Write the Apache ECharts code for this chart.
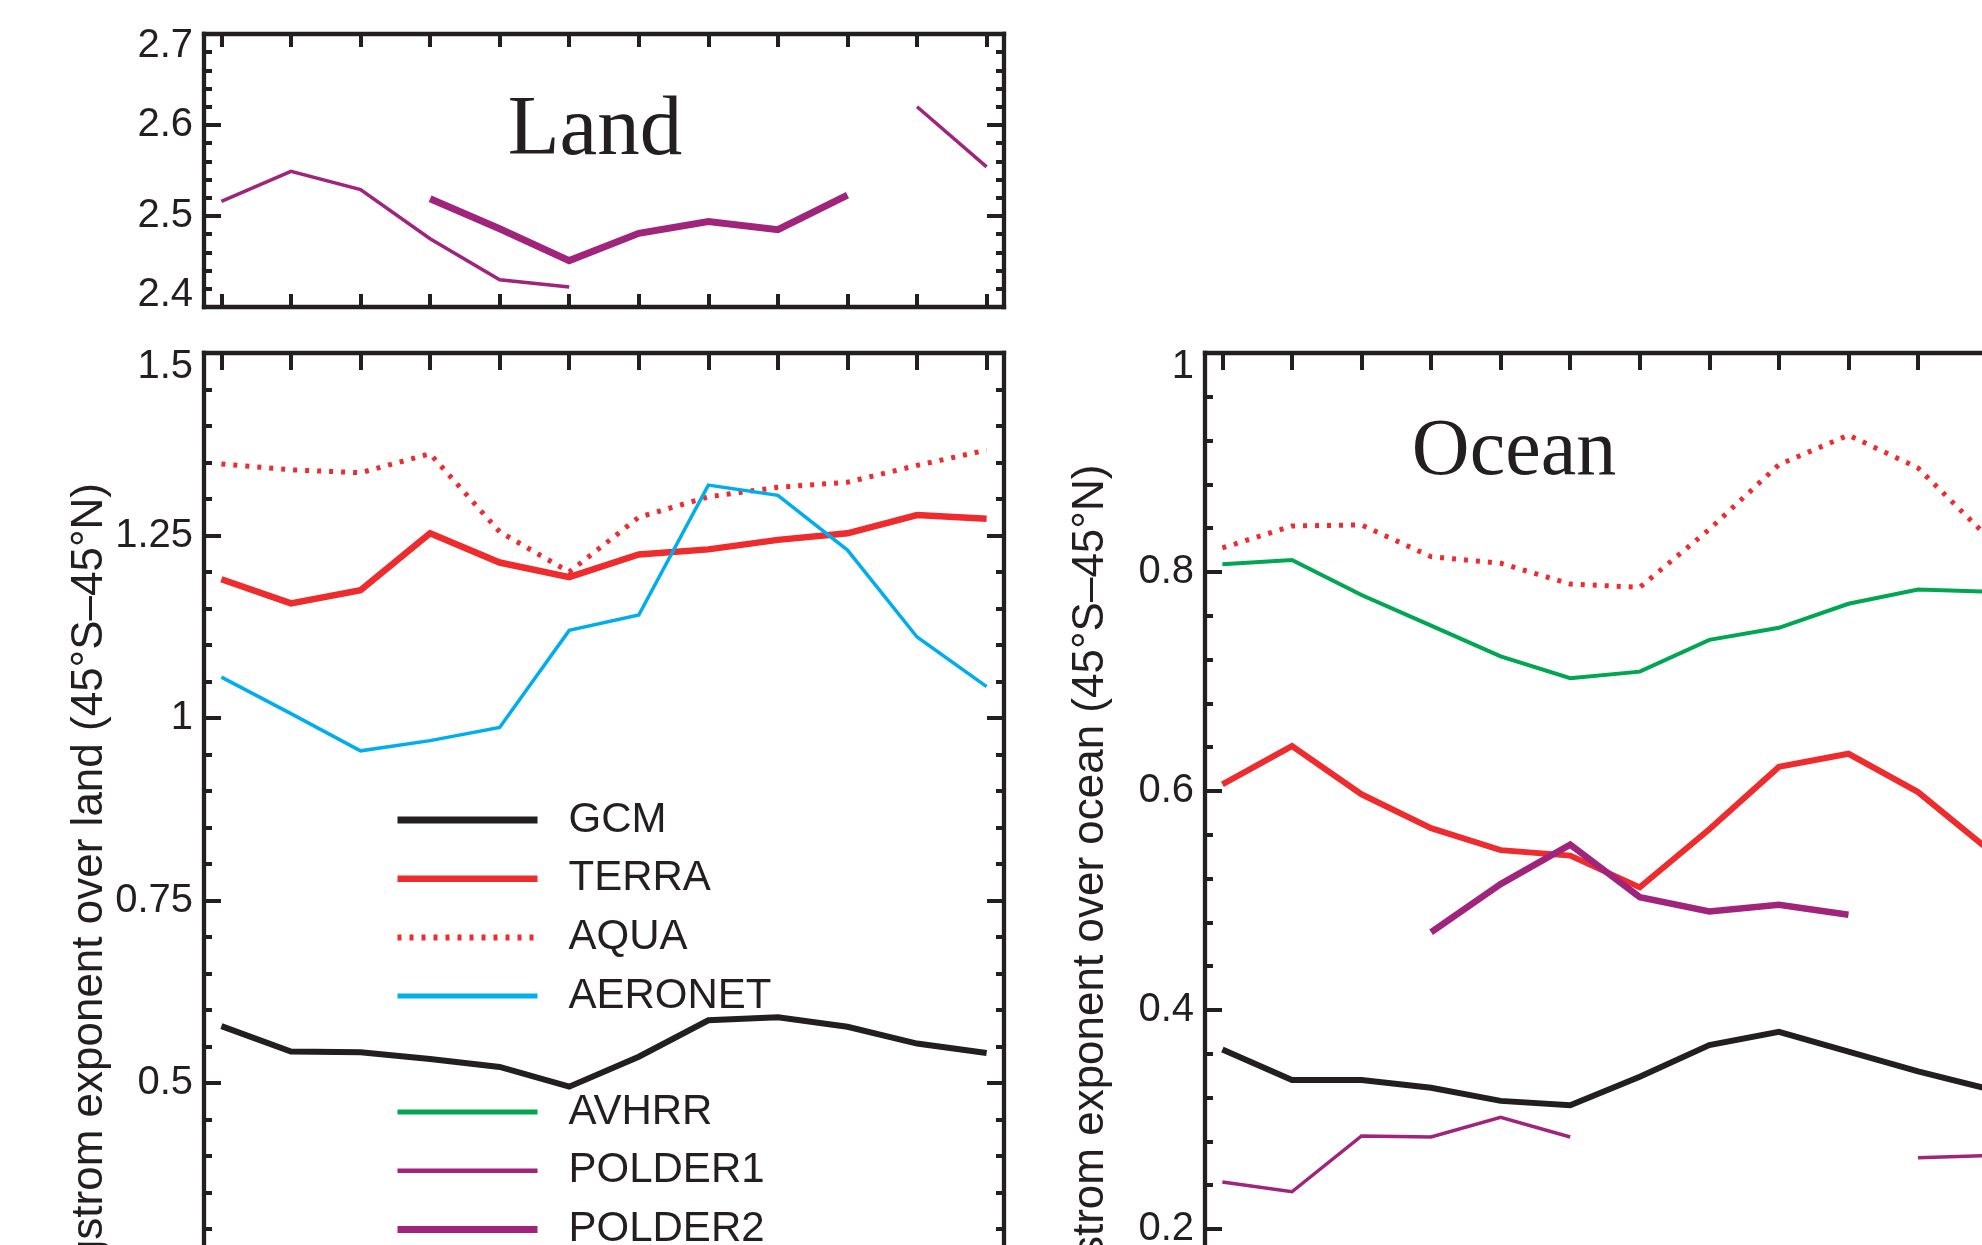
<!DOCTYPE html>
<html>
<head>
<meta charset="utf-8">
<script src="https://cdn.jsdelivr.net/npm/echarts@6/dist/echarts.min.js"></script>
<style>
html,body{margin:0;padding:0;background:#ffffff;overflow:hidden;}
#c{width:1982px;height:1245px;}
</style>
</head>
<body>
<div id="c"></div>
<script>
// ---------- data ----------
const months = [1, 2, 3, 4, 5, 6, 7, 8, 9, 10, 11, 12];

// Land, upper panel (POLDER)
const landPolder1 = [2.516, 2.549, 2.529, 2.475, 2.430, 2.422, null, null, null, null, 2.620, 2.554];
const landPolder2 = [null, null, null, 2.519, 2.486, 2.451, 2.481, 2.494, 2.485, 2.523, null, null];

// Land, lower panel
const landGCM     = [0.578, 0.543, 0.542, 0.533, 0.522, 0.495, 0.536, 0.586, 0.590, 0.577, 0.554, 0.541];
const landTerra   = [1.190, 1.157, 1.175, 1.253, 1.213, 1.193, 1.224, 1.231, 1.244, 1.253, 1.278, 1.273];
const landAqua    = [1.348, 1.340, 1.336, 1.362, 1.255, 1.200, 1.275, 1.303, 1.316, 1.323, 1.346, 1.367];
const landAeronet = [1.056, 1.006, 0.955, 0.969, 0.987, 1.120, 1.141, 1.319, 1.305, 1.230, 1.111, 1.043];

// Ocean
const oceanAqua    = [0.822, 0.842, 0.843, 0.814, 0.808, 0.789, 0.786, 0.839, 0.898, 0.925, 0.895, 0.832];
const oceanAvhrr   = [0.807, 0.811, 0.779, 0.751, 0.723, 0.703, 0.709, 0.738, 0.749, 0.771, 0.784, 0.782];
const oceanTerra   = [0.606, 0.641, 0.597, 0.566, 0.546, 0.541, 0.512, 0.565, 0.622, 0.634, 0.599, 0.547];
const oceanPolder2 = [null, null, null, 0.471, 0.515, 0.551, 0.503, 0.490, 0.496, 0.487, null, null];
const oceanGCM     = [0.364, 0.336, 0.336, 0.329, 0.317, 0.313, 0.339, 0.368, 0.380, 0.362, 0.344, 0.328];
const oceanPolder1 = [0.243, 0.234, 0.285, 0.284, 0.302, 0.284, null, null, null, null, 0.265, 0.267];

// tick values
const landUpperTicks = [2.4, 2.5, 2.6, 2.7];
const landLowerTicks = [0, 0.25, 0.5, 0.75, 1, 1.25, 1.5];
const oceanTicks     = [0, 0.2, 0.4, 0.6, 0.8, 1];

const legendA = ['GCM', 'TERRA', 'AQUA', 'AERONET'];
const legendB = ['AVHRR', 'POLDER1', 'POLDER2'];

const landTitle  = 'Ångstrom exponent over land (45°S–45°N)';
const oceanTitle = 'Ångstrom exponent over ocean (45°S–45°N)';

// ---------- styles ----------
const INK = '#231f20';
const RED = '#ee2c2e';
const CYAN = '#00aeef';
const GREEN = '#00a651';
const PURPLE = '#a1247c';
const SANS = '"Liberation Sans", Arial, Helvetica, sans-serif';
const SERIF = '"Liberation Serif", "Times New Roman", serif';
const AQUA_DASH = [4, 8];

const legendWidths = { GCM: 7, TERRA: 6.5, AQUA: 6, AERONET: 5, AVHRR: 5, POLDER1: 4.5, POLDER2: 7 };

function fmt(v) { return String(parseFloat(Number(v).toFixed(3))); }

function xAxes(gi, tickLen) {
  const mk = (pos) => ({
    type: 'value', gridIndex: gi, position: pos, min: 0.75, max: 12.25,
    axisLine: { show: true, onZero: false, lineStyle: { color: INK, width: 4.3, cap: 'square' } },
    axisTick: { show: true, inside: true, length: tickLen, customValues: months, lineStyle: { color: INK, width: 4 } },
    axisLabel: { show: false, customValues: months },
    splitLine: { show: false }, minorTick: { show: false }, minorSplitLine: { show: false }
  });
  return [mk('bottom'), mk('top')];
}

function yAxes(gi, ticks, interval, name, shift, showMinShift) {
  const min = ticks[0], max = ticks[ticks.length - 1];
  const common = {
    type: 'value', gridIndex: gi, min: min, max: max, interval: interval,
    axisLine: { show: true, onZero: false, lineStyle: { color: INK, width: 4.3, cap: 'square' } },
    axisTick: { show: true, inside: true, length: 17, lineStyle: { color: INK, width: 4 } },
    minorTick: { show: true, splitNumber: 5, length: 8, lineStyle: { color: INK, width: 4 } },
    splitLine: { show: false }, minorSplitLine: { show: false }
  };
  const left = Object.assign({}, common, {
    position: 'left',
    axisLabel: {
      show: true, margin: 11, color: INK, fontSize: 40, fontFamily: SANS, lineHeight: shift * 2,
      formatter: function (v) {
        const s = fmt(v);
        if (Math.abs(v - max) < 1e-9) return '\n' + s;
        if (showMinShift && Math.abs(v - min) < 1e-9) return s + '\n';
        return s;
      }
    }
  });
  if (name) {
    Object.assign(left, {
      name: name, nameLocation: 'middle', nameRotate: 90, nameGap: 92, nameMoveOverlap: false,
      nameTextStyle: { color: INK, fontSize: 44, fontFamily: SANS }
    });
  }
  const right = Object.assign({}, common, { position: 'right', axisLabel: { show: false } });
  return [left, right];
}

function line(name, xi, yi, vals, color, width, dash, z) {
  return {
    type: 'line', name: name, xAxisIndex: xi, yAxisIndex: yi,
    data: months.map((m, i) => (vals[i] == null ? [m, '-'] : [m, vals[i]])),
    symbol: 'none', showSymbol: false, connectNulls: false, silent: true, z: z || 2,
    lineStyle: { color: color, width: width, type: dash || 'solid', cap: 'butt', join: 'miter' },
    itemStyle: { color: color },
    emphasis: { disabled: true }
  };
}

const chart = echarts.init(document.getElementById('c'), null, { renderer: 'canvas' });

const legendCommon = {
  orient: 'vertical', selectedMode: false, padding: 0, height: 400,
  itemWidth: 140, itemHeight: 42, itemGap: 16.7,
  itemStyle: { opacity: 0 },
  textStyle: { color: INK, fontSize: 42, fontFamily: SANS, lineHeight: 42, padding: [0, 0, 0, 26] }
};
function legendItems(names) {
  return names.map(n => ({ name: n, lineStyle: { width: legendWidths[n] }, itemStyle: { opacity: 0 } }));
}

const option = {
  animation: false,
  backgroundColor: '#ffffff',
  grid: [
    { left: 204, top: 34, width: 800, height: 273, containLabel: false, outerBoundsMode: 'none' },
    { left: 204, top: 353, width: 800, height: 1095, containLabel: false, outerBoundsMode: 'none' },
    { left: 1205, top: 353, width: 800, height: 1095, containLabel: false, outerBoundsMode: 'none' }
  ],
  xAxis: [].concat(xAxes(0, 13), xAxes(1, 17), xAxes(2, 17)),
  yAxis: [].concat(
    yAxes(0, landUpperTicks, 0.1, null, 12, true),
    yAxes(1, landLowerTicks, 0.25, landTitle, 14, false),
    yAxes(2, oceanTicks, 0.2, oceanTitle, 14, false)
  ),
  legend: [
    Object.assign({}, legendCommon, { left: 394, top: 799, data: legendItems(legendA) }),
    Object.assign({}, legendCommon, { left: 394, top: 1091, data: legendItems(legendB) })
  ],
  graphic: [
    { type: 'text', x: 595, y: 132, silent: true,
      style: { text: 'Land', fill: INK, font: '85px ' + SERIF, fontSize: 85, fontFamily: SERIF,
               align: 'center', verticalAlign: 'middle', textAlign: 'center', textVerticalAlign: 'middle' } },
    { type: 'text', x: 1514, y: 453, silent: true,
      style: { text: 'Ocean', fill: INK, font: '80px ' + SERIF, fontSize: 80, fontFamily: SERIF,
               align: 'center', verticalAlign: 'middle', textAlign: 'center', textVerticalAlign: 'middle' } }
  ],
  series: [
    // land upper
    line('POLDER1', 0, 0, landPolder1, PURPLE, 3.5),
    line('POLDER2', 0, 0, landPolder2, PURPLE, 7),
    // land lower
    line('GCM', 2, 2, landGCM, INK, 6),
    line('TERRA', 2, 2, landTerra, RED, 6.5),
    line('AQUA', 2, 2, landAqua, RED, 5, AQUA_DASH),
    line('AERONET', 2, 2, landAeronet, CYAN, 3.5),
    // ocean
    line('AQUA', 4, 4, oceanAqua, RED, 5, AQUA_DASH),
    line('AVHRR', 4, 4, oceanAvhrr, GREEN, 4),
    line('TERRA', 4, 4, oceanTerra, RED, 6),
    line('POLDER2', 4, 4, oceanPolder2, PURPLE, 6.5, null, 3),
    line('GCM', 4, 4, oceanGCM, INK, 6),
    line('POLDER1', 4, 4, oceanPolder1, PURPLE, 3.5)
  ]
};

chart.setOption(option);
</script>
</body>
</html>
